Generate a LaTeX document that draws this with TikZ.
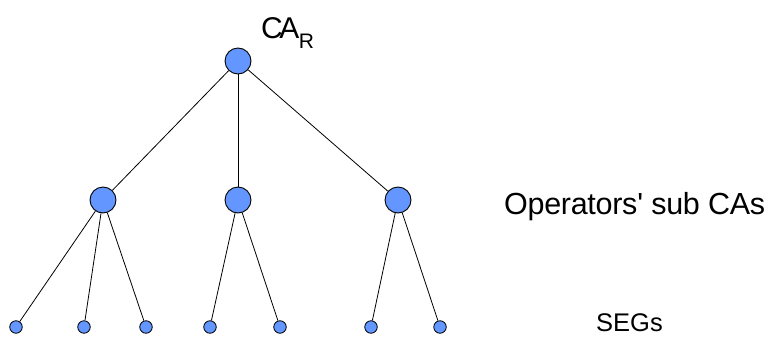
\documentclass[tikz,border=0pt]{standalone}
\usepackage{fontspec}
\setmainfont{Liberation Sans}
\definecolor{nodeblue}{RGB}{100,150,255}
\begin{document}
\begin{tikzpicture}[x=1pt,y=-1pt,
  bignode/.style={circle,draw=black,line width=0.9pt,fill=nodeblue,minimum size=26pt,inner sep=0pt},
  leafnode/.style={circle,draw=black,line width=0.8pt,fill=nodeblue,minimum size=12.5pt,inner sep=0pt},
  edge/.style={draw=black,line width=0.8pt},
  lbl/.style={inner sep=0pt,anchor=base west}]
\useasboundingbox (0,0) rectangle (775,337);
\node[bignode] (r) at (238,61) {};
\node[bignode] (m1) at (103,200) {};
\node[bignode] (m2) at (238,200) {};
\node[bignode] (m3) at (398,200) {};
\node[leafnode] (l1) at (16,327) {};
\node[leafnode] (l2) at (84,327) {};
\node[leafnode] (l3) at (146,327) {};
\node[leafnode] (l4) at (210,327) {};
\node[leafnode] (l5) at (280,327) {};
\node[leafnode] (l6) at (371,327) {};
\node[leafnode] (l7) at (440,327) {};
\draw[edge] (r) -- (m1);
\draw[edge] (r) -- (m2);
\draw[edge] (r) -- (m3);
\draw[edge] (m1) -- (l1);
\draw[edge] (m1) -- (l2);
\draw[edge] (m1) -- (l3);
\draw[edge] (m2) -- (l4);
\draw[edge] (m2) -- (l5);
\draw[edge] (m3) -- (l6);
\draw[edge] (m3) -- (l7);
\node[lbl] (ca) at (261,38) {\fontsize{30}{30}\selectfont C\kern-3.5pt A\kern-0.5pt\raisebox{-10pt}{\fontsize{21}{21}\selectfont R}};
\node[lbl] (ops) at (504,214) {\fontsize{30.5}{30}\selectfont\addfontfeatures{LetterSpace=-1}Operators\textquotesingle\ sub CAs};
\node[lbl] (segs) at (596,331) {\fontsize{25.5}{25}\selectfont SEGs};
\end{tikzpicture}
\end{document}
